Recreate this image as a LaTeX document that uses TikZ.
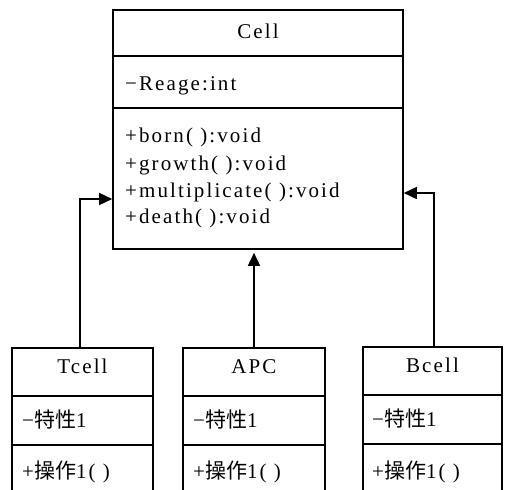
\documentclass[tikz,border=0pt]{standalone}
\usepackage{fontspec}
\setmainfont{Liberation Serif}[LetterSpace=10]
\newfontfamily\cjk{Noto Sans CJK SC}
\usetikzlibrary{arrows.meta,calc}
\begin{document}
\begin{tikzpicture}[x=1pt,y=-1pt,
  classbox/.style={draw, line width=1.6pt, inner sep=0pt, rectangle},
  divider/.style={line width=1.6pt},
  txt/.style={inner sep=0pt, font=\fontsize{21}{25}\selectfont},
  inherit/.style={line width=1.6pt, -{Triangle[length=13pt,width=12pt]}}
]
\clip (0,0) rectangle (507,490);

% superclass Cell
\node[classbox, minimum width=290pt, minimum height=239pt] (cell) at (258,129.5) {};
\draw[divider] ($(cell.north west)+(0,47)$) -- ($(cell.north east)+(0,47)$);
\draw[divider] ($(cell.north west)+(0,99)$) -- ($(cell.north east)+(0,99)$);
\node[txt, anchor=base] (cellname) at (258,38) {Cell};
\node[txt, anchor=base west] (cellattr) at (125,90) {−Reage:int};
\node[txt, anchor=base west] (m1) at (125,142) {+born( ):void};
\node[txt, anchor=base west] (m2) at (125,170) {+growth( ):void};
\node[txt, anchor=base west] (m3) at (125,197) {+multiplicate( ):void};
\node[txt, anchor=base west] (m4) at (125,223) {+death( ):void};

% subclasses
\node[classbox, minimum width=141pt, minimum height=148pt] (tcell) at (82.5,422) {};
\node[classbox, minimum width=142pt, minimum height=148pt] (apc) at (254,422) {};
\node[classbox, minimum width=139pt, minimum height=148pt] (bcell) at (432.5,421) {};
\foreach \b in {tcell,apc,bcell}{
  \draw[divider] ($(\b.north west)+(0,49)$) -- ($(\b.north east)+(0,49)$);
  \draw[divider] ($(\b.north west)+(0,98)$) -- ($(\b.north east)+(0,98)$);
}
\node[txt, anchor=base] (tname) at (82.5,373) {Tcell};
\node[txt, anchor=base west] (tattr) at (22,427) {−{\cjk 特性}1};
\node[txt, anchor=base west] (top) at (22,478) {+{\cjk 操作}1( )};
\node[txt, anchor=base] (aname) at (254,373) {APC};
\node[txt, anchor=base west] (aattr) at (193,427) {−{\cjk 特性}1};
\node[txt, anchor=base west] (aop) at (193,478) {+{\cjk 操作}1( )};
\node[txt, anchor=base] (bname) at (432.5,372) {Bcell};
\node[txt, anchor=base west] (battr) at (372,426) {−{\cjk 特性}1};
\node[txt, anchor=base west] (bop) at (372,478) {+{\cjk 操作}1( )};

% generalisation arrows
\draw[inherit] ([xshift=-2.5pt]tcell.north) |- ([yshift=-69.5pt]cell.west);
\draw[inherit, shorten >=3pt] (apc.north) -- (apc.north |- cell.south);
\draw[inherit] ([xshift=1.5pt]bcell.north) |- ([yshift=-63.5pt]cell.east);
\end{tikzpicture}
\end{document}
